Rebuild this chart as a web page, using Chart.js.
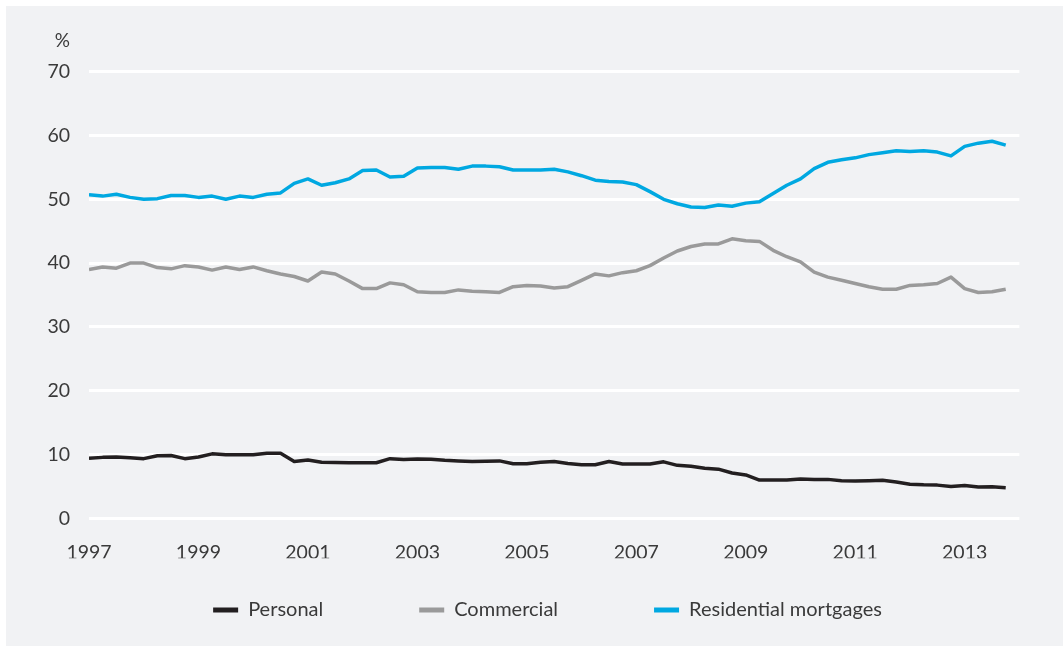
<!DOCTYPE html>
<html>
<head>
<meta charset="utf-8">
<script src="https://cdn.jsdelivr.net/npm/chart.js@4.4.1/dist/chart.umd.min.js"></script>
<style>
  html, body { margin: 0; padding: 0; background: #ffffff; }
  #panel { position: absolute; left: 6px; top: 6px; width: 1057px; height: 640px; background: #f1f2f4; }
</style>
</head>
<body>
<div id="panel"><canvas id="chart"></canvas></div>
<script>
// quarterly observations, 1997 Q1 .. 2013 Q4 (per cent of lending)
const personal = [
  9.4, 9.55, 9.6, 9.5, 9.35, 9.8, 9.85, 9.35, 9.6, 10.1, 9.95, 9.95,
  9.95, 10.2, 10.2, 8.9, 9.15, 8.8, 8.75, 8.7, 8.7, 8.7, 9.35, 9.2,
  9.3, 9.25, 9.1, 9.0, 8.9, 8.95, 9.0, 8.55, 8.55, 8.8, 8.9, 8.6,
  8.4, 8.4, 8.9, 8.5, 8.5, 8.5, 8.85, 8.3, 8.15, 7.85, 7.7, 7.1,
  6.8, 6.0, 6.0, 6.0, 6.15, 6.1, 6.1, 5.9, 5.85, 5.9, 5.95, 5.7,
  5.35, 5.25, 5.2, 5.0, 5.15, 4.9, 4.95, 4.8
];
const commercial = [
  39.0, 39.4, 39.2, 40.0, 40.0, 39.3, 39.1, 39.6, 39.4, 38.9, 39.4, 39.0,
  39.4, 38.8, 38.3, 37.9, 37.2, 38.6, 38.3, 37.2, 36.0, 36.0, 36.9, 36.6,
  35.5, 35.4, 35.4, 35.8, 35.6, 35.5, 35.4, 36.3, 36.5, 36.4, 36.1, 36.3,
  37.3, 38.3, 38.0, 38.5, 38.8, 39.6, 40.8, 41.9, 42.6, 43.0, 43.0, 43.8,
  43.5, 43.4, 42.0, 41.0, 40.2, 38.6, 37.8, 37.3, 36.8, 36.3, 35.9, 35.9,
  36.5, 36.6, 36.8, 37.8, 36.0, 35.4, 35.5, 35.9
];
const residential = [
  50.7, 50.5, 50.8, 50.3, 50.0, 50.1, 50.6, 50.6, 50.3, 50.5, 50.0, 50.5,
  50.3, 50.8, 51.0, 52.5, 53.2, 52.2, 52.6, 53.2, 54.5, 54.6, 53.5, 53.6,
  54.9, 55.0, 55.0, 54.7, 55.2, 55.2, 55.1, 54.6, 54.6, 54.6, 54.7, 54.3,
  53.7, 53.0, 52.8, 52.7, 52.3, 51.2, 50.0, 49.3, 48.8, 48.7, 49.1, 48.9,
  49.4, 49.6, 50.9, 52.2, 53.2, 54.8, 55.8, 56.2, 56.5, 57.0, 57.3, 57.6,
  57.5, 57.6, 57.4, 56.8, 58.3, 58.8, 59.1, 58.5
];
const startYear = 1997;
const quarters = personal.map((_, i) => startYear + i / 4);
const xTickYears = [1997, 1999, 2001, 2003, 2005, 2007, 2009, 2011, 2013];
const yTicks = [0, 10, 20, 30, 40, 50, 60, 70];

const FONT = "Lato, 'Open Sans', sans-serif";
const TEXT = "#3a3a3a";

function series(label, values, color) {
  return {
    label: label,
    data: values.map((v, i) => ({ x: quarters[i], y: v })),
    borderColor: color,
    backgroundColor: color,
    borderWidth: 3.5,
    borderJoinStyle: "round",
    pointRadius: 0,
    tension: 0
  };
}

// "%" unit above the y axis and the bottom legend
const extras = {
  id: "extras",
  afterDraw(chart) {
    const ctx = chart.ctx;
    const area = chart.chartArea;
    ctx.save();
    ctx.fillStyle = TEXT;
    ctx.font = "19px " + FONT;
    ctx.textAlign = "right";
    ctx.textBaseline = "middle";
    ctx.fillText("%", area.left - 19, 35);

    ctx.font = "20px " + FONT;
    const items = chart.data.datasets.map(ds => ({
      label: ds.label, color: ds.borderColor, w: 25 + 10 + ctx.measureText(ds.label).width
    }));
    const gap = 96;
    const total = items.reduce((s, it) => s + it.w, 0) + gap * (items.length - 1);
    let x = 541.5 - total / 2;
    const y = 604;
    ctx.textAlign = "left";
    items.forEach(it => {
      ctx.fillStyle = it.color;
      ctx.fillRect(x, y - 2.5, 25, 5);
      ctx.fillStyle = TEXT;
      ctx.fillText(it.label, x + 35, y);
      x += it.w + gap;
    });
    ctx.restore();
  }
};

new Chart(document.getElementById("chart"), {
  type: "line",
  data: {
    datasets: [
      series("Personal", personal, "#231f20"),
      series("Commercial", commercial, "#9a9a9a"),
      series("Residential mortgages", residential, "#00a8e1")
    ]
  },
  options: {
    responsive: true,
    maintainAspectRatio: false,
    animation: false,
    layout: { padding: { top: 65.7, right: 43.6, bottom: 87.7, left: 0 } },
    plugins: {
      legend: { display: false },
      tooltip: { enabled: false }
    },
    scales: {
      x: {
        type: "linear",
        min: 1997,
        max: 2014,
        grid: { display: false, drawTicks: false },
        border: { display: false },
        afterBuildTicks: axis => { axis.ticks = xTickYears.map(v => ({ value: v })); },
        afterFit: axis => { axis.height = 40; },
        ticks: {
          padding: 23,
          color: TEXT,
          font: { family: FONT, size: 19.5 },
          maxRotation: 0,
          autoSkip: false,
          callback: v => String(v)
        }
      },
      y: {
        min: 0,
        max: 70,
        grid: { color: "#ffffff", lineWidth: 3, drawTicks: false },
        border: { display: false },
        afterBuildTicks: axis => { axis.ticks = yTicks.map(v => ({ value: v })); },
        afterFit: axis => { axis.width = 83; },
        ticks: {
          padding: 19,
          color: TEXT,
          font: { family: FONT, size: 19.5 }
        }
      }
    }
  },
  plugins: [extras]
});
</script>
</body>
</html>
